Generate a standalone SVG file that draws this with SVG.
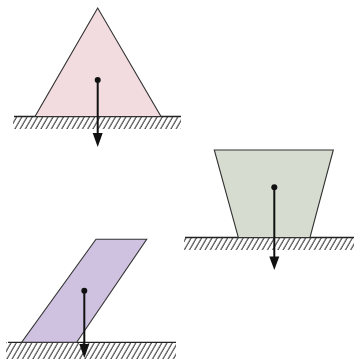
<svg xmlns="http://www.w3.org/2000/svg" width="354" height="359" viewBox="0 0 354 359">
<defs>
<style>
.body{stroke:#333;stroke-width:1.1;stroke-linejoin:miter}
.ground{stroke:#222;stroke-width:1.3}
.arrow{stroke:#111;stroke-width:2}
.dot{fill:#111}
.head{fill:#111}
</style>
<pattern id="hatch" patternUnits="userSpaceOnUse" width="5.2" height="20" patternTransform="skewX(-30)">
<line x1="1" y1="0" x2="1" y2="20" stroke="#333" stroke-width="1.2"/>
</pattern>
</defs>
<rect width="354" height="359" fill="#fff"/>
<g id="ground1">
<rect x="13" y="116.5" width="168" height="12.5" fill="url(#hatch)"/>
<line class="ground" x1="14" y1="116.5" x2="181" y2="116.5"/>
</g>
<g id="triangle">
<polygon class="body" points="97.7,8 35,116.5 161,116.5" fill="#f2dcdf"/>
</g>
<g id="ground2">
<rect x="184" y="237.5" width="170" height="12.5" fill="url(#hatch)"/>
<line class="ground" x1="185" y1="237.5" x2="354" y2="237.5"/>
</g>
<g id="trapezoid">
<polygon class="body" points="214.3,150 333.3,150 310,237.5 238.3,237.5" fill="#d6ddd0"/>
</g>
<g id="ground3">
<rect x="6" y="342.3" width="170" height="17" fill="url(#hatch)"/>
<line class="ground" x1="8" y1="342.3" x2="176" y2="342.3"/>
</g>
<g id="parallelogram">
<polygon class="body" points="96,239.3 146.7,239.3 76.7,342.3 21.7,342.3" fill="#cfc2e0"/>
</g>
<g id="connectors">
<line class="arrow" x1="97.7" y1="80" x2="97.7" y2="135"/>
<polygon class="head" points="92.7,133 102.7,133 97.7,147"/>
<circle class="dot" cx="97.7" cy="80" r="3"/>
<line class="arrow" x1="274.3" y1="187.3" x2="274.3" y2="258"/>
<polygon class="head" points="269.3,256.5 279.3,256.5 274.3,270"/>
<circle class="dot" cx="274.3" cy="187.3" r="3"/>
<line class="arrow" x1="84.3" y1="290.7" x2="84.3" y2="345"/>
<polygon class="head" points="79.3,344 89.3,344 84.3,358"/>
<circle class="dot" cx="84.3" cy="290.7" r="3"/>
</g>
</svg>
